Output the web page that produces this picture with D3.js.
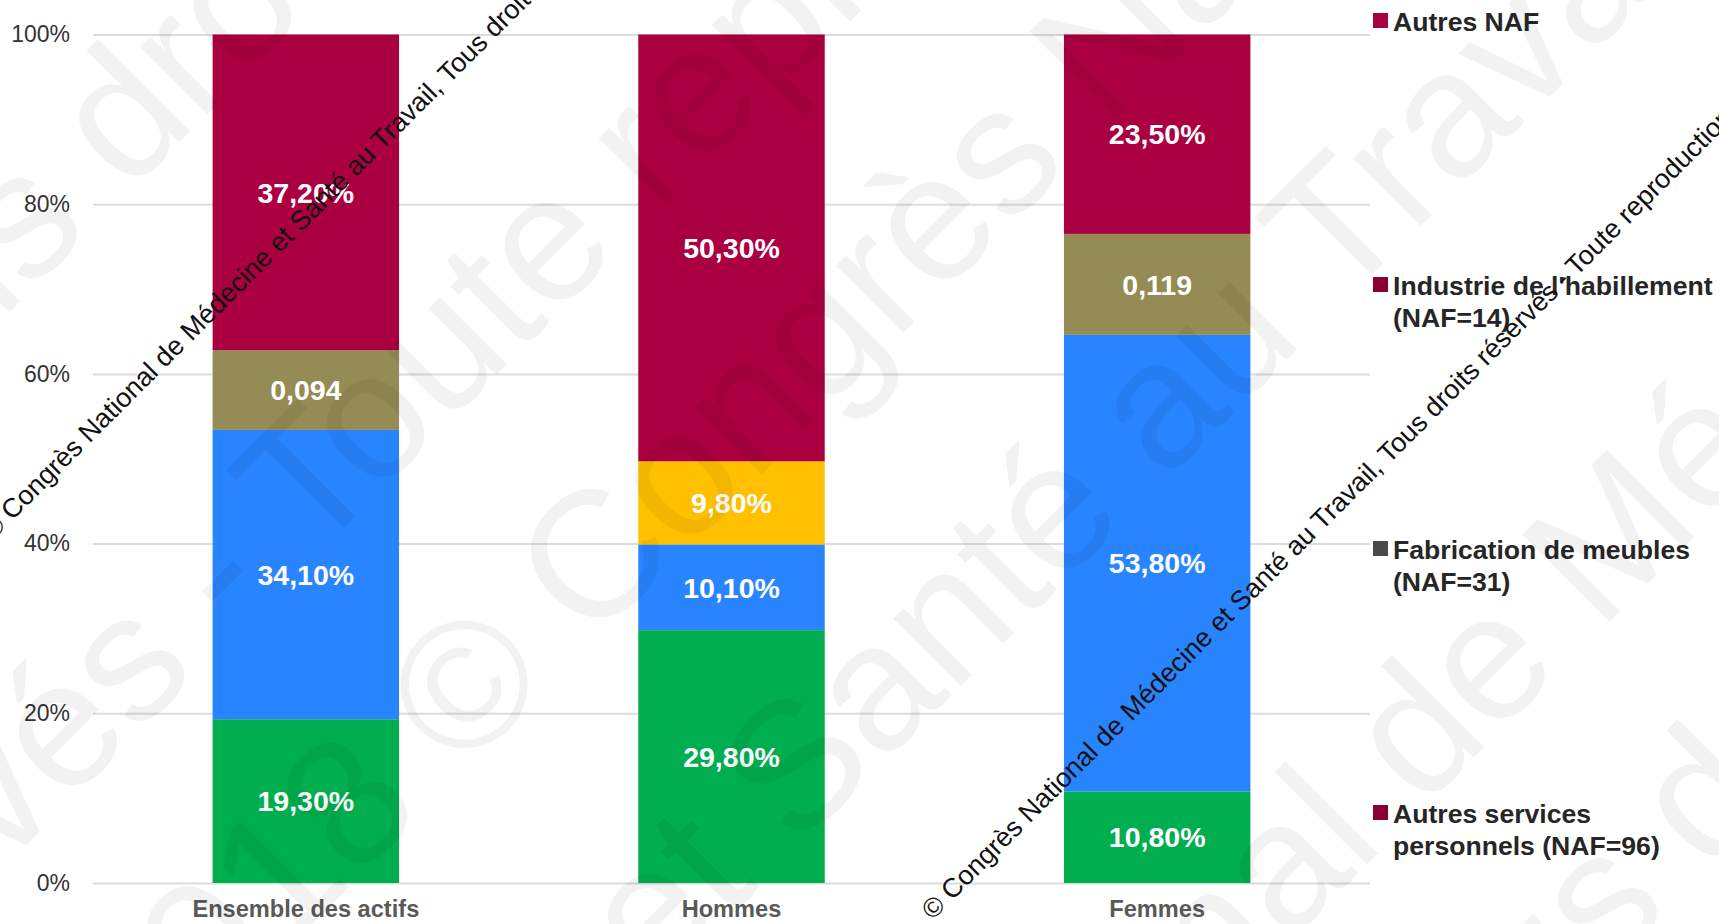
<!DOCTYPE html>
<html>
<head>
<meta charset="utf-8">
<script src="https://cdn.jsdelivr.net/npm/d3@7/dist/d3.min.js"></script>
<style>
  html, body { margin: 0; padding: 0; background: #fff; }
  svg { display: block; font-family: "Liberation Sans", Arial, sans-serif; }
</style>
</head>
<body>
<svg id="chart" width="1719" height="924"></svg>
<script>
// ---- Data ----
const categories = ["Ensemble des actifs", "Hommes", "Femmes"];
const seriesKeys = ["vert", "bleu", "jaune", "olive", "rouge"];
const valuesVert   = [0.193, 0.298, 0.108];
const valuesBleu   = [0.341, 0.101, 0.538];
const valuesJaune  = [0,     0.098, 0];
const valuesOlive  = [0.094, 0,     0.119];
const valuesRouge  = [0.372, 0.503, 0.235];
const seriesColors = ["#00AE4F", "#2984FF", "#FFC000", "#958B54", "#AA0041"];
const yTicks = [0, 0.2, 0.4, 0.6, 0.8, 1];
const legendLines = [
  ["Autres NAF"],
  ["Industrie de l'habillement", "(NAF=14)"],
  ["Fabrication de meubles", "(NAF=31)"],
  ["Autres services", "personnels (NAF=96)"]
];
const legendColors = ["#A80040", "#8A0036", "#4A4A4A", "#8A0036"];
const watermarkText = "© Congrès National de Médecine et Santé au Travail, Tous droits réservés - Toute reproduction interdite";

(function () {
// ---- Setup ----
const fr = d3.formatLocale({decimal: ",", thousands: " ", grouping: [3], currency: ["", " €"]});
const fmtPct = fr.format(".2%");
const fmtDec = fr.format(".3f");
const fmtTick = fr.format(".0%");

const svg = d3.select("#chart");
const pLeft = 93, pRight = 1370, pTop = 34.5, pBottom = 883;

const x = d3.scaleBand().domain(categories).range([pLeft, pRight])
  .paddingInner(0.562).paddingOuter(0.281);
const y = d3.scaleLinear().domain([0, 1]).range([pBottom, pTop]);

const table = categories.map((c, i) => ({
  cat: c,
  vert: valuesVert[i], bleu: valuesBleu[i], jaune: valuesJaune[i],
  olive: valuesOlive[i], rouge: valuesRouge[i]
}));
const stacked = d3.stack().keys(seriesKeys)(table);

// ---- Grid / y axis ----
const yAxis = svg.append("g").attr("transform", `translate(${pLeft},0)`)
  .call(d3.axisLeft(y).tickValues(yTicks).tickFormat(fmtTick)
    .tickSize(-(pRight - pLeft)).tickPadding(23));
yAxis.select(".domain").remove();
yAxis.selectAll(".tick line").attr("stroke", "#dcdcdc").attr("stroke-width", 2);
yAxis.selectAll(".tick text").attr("fill", "#333").attr("font-size", 23)
  .attr("font-family", "'Liberation Sans', Arial, sans-serif");

// ---- x axis ----
const xAxis = svg.append("g").attr("transform", `translate(0,${pBottom})`)
  .call(d3.axisBottom(x).tickSize(0).tickPadding(17));
xAxis.select(".domain").remove();
xAxis.selectAll(".tick text").attr("fill", "#595959").attr("font-size", 23.6)
  .attr("font-weight", "bold").attr("font-family", "'Liberation Sans', Arial, sans-serif");

// ---- Bars ----
const layers = svg.append("g").selectAll("g").data(stacked).join("g")
  .attr("fill", (d, i) => seriesColors[i]);
layers.selectAll("rect").data(d => d.map(p => ({p, key: d.key}))).join("rect")
  .attr("x", d => x(d.p.data.cat))
  .attr("width", x.bandwidth())
  .attr("y", d => y(d.p[1]))
  .attr("height", d => y(d.p[0]) - y(d.p[1]));

// ---- Labels ----
const labelG = svg.append("g");
stacked.forEach(s => {
  s.forEach(p => {
    const v = p[1] - p[0];
    if (v <= 0) return;
    labelG.append("text")
      .attr("x", x(p.data.cat) + x.bandwidth() / 2)
      .attr("y", (y(p[0]) + y(p[1])) / 2)
      .attr("dy", "0.36em")
      .attr("text-anchor", "middle")
      .attr("fill", "#fff")
      .attr("font-weight", "bold")
      .attr("font-size", 28.5)
      .text(s.key === "olive" ? fmtDec(p.data[s.key]) : fmtPct(p.data[s.key]));
  });
});

// ---- Legend ----
const lg = svg.append("g");
legendLines.forEach((lines, i) => {
  const base = 31 + i * 264;
  lg.append("rect").attr("x", 1373).attr("y", base - 18).attr("width", 15).attr("height", 15)
    .attr("fill", legendColors[i]);
  const t = lg.append("text").attr("x", 1393).attr("y", base)
    .attr("fill", "#262626").attr("font-weight", "bold").attr("font-size", 26.6);
  lines.forEach((l, j) => {
    t.append("tspan").attr("x", 1393).attr("y", base + j * 31.5).text(l);
  });
});

// ---- Faint large watermark ----
const bigFragments = [
  {t: "Tous droits", x: 93, y: 152},
  {t: "réservés - Toute reproduction", x: 500, y: 295},
  {t: "2018 © Congrès National", x: 820, y: 340},
  {t: "et Santé au Travail", x: 1147, y: 423},
  {t: "National de Médecine", x: 1497, y: 658},
  {t: "Tous droits", x: 1673, y: 832}
];
const wm = svg.append("g").attr("pointer-events", "none");
bigFragments.forEach(f => {
  wm.append("text")
    .attr("transform", `translate(${f.x},${f.y}) rotate(-45)`)
    .attr("text-anchor", "middle").attr("dy", "0.3em")
    .attr("font-size", 180).attr("fill", "#000").attr("fill-opacity", 0.05)
    .text(f.t);
});

// ---- Black diagonal watermark ----
[[-14, 534], [926, 914]].forEach(([px, py]) => {
  svg.append("text")
    .attr("transform", `translate(${px},${py}) rotate(-45)`)
    .attr("dy", "0.35em")
    .attr("font-size", 27).attr("fill", "#111")
    .text(watermarkText);
});
})();
</script>
</body>
</html>
